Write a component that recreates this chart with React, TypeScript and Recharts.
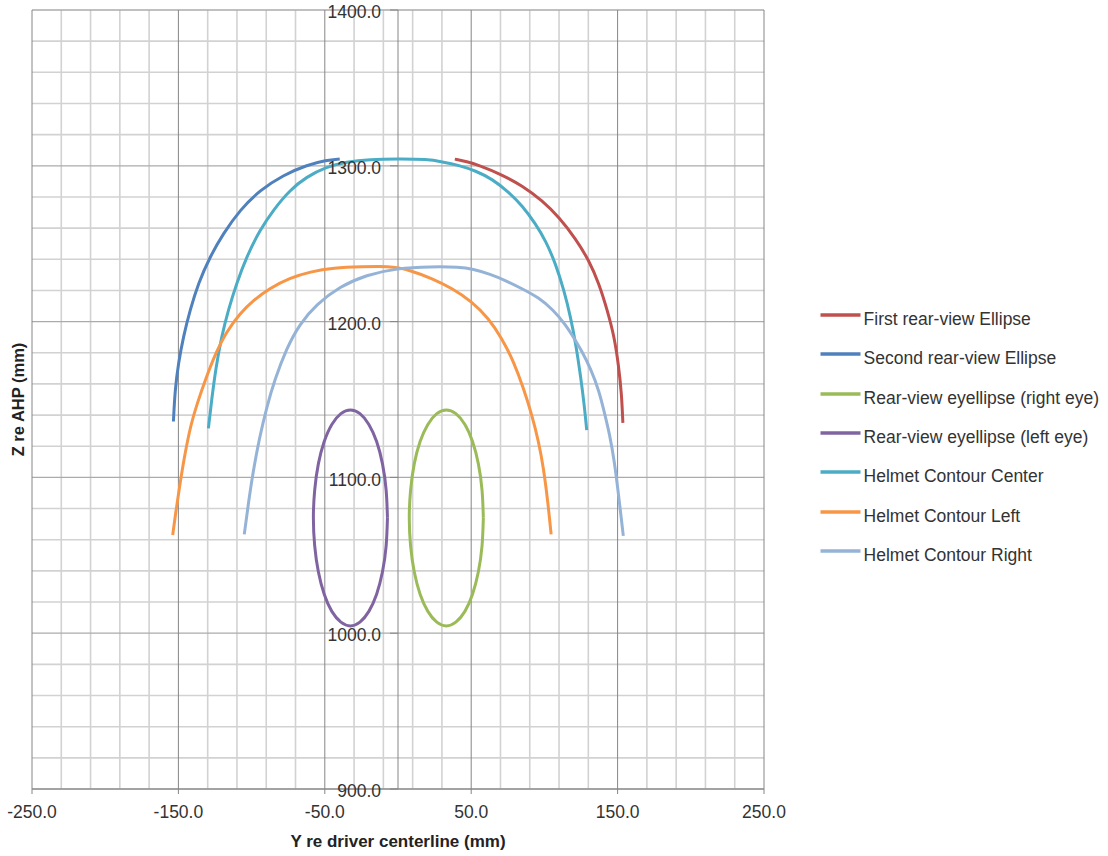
import React from "react";
import { LineChart, Line, XAxis, YAxis, ReferenceLine, ReferenceDot } from "recharts";

type Pt = { y: number; z: number };
const toPts = (a: number[][]): Pt[] => a.map(([y, z]) => ({ y, z }));

// Axis ticks / grid values
const xMajorTicks = [-250, -150, -50, 50, 150, 250];
const xMinorGrid = [-230, -210, -190, -170, -130, -110, -90, -70, -30, -10, 10, 30, 70, 90, 110, 130, 170, 190, 210, 230];
const yMajorTicks = [900, 1000, 1100, 1200, 1300, 1400];
const yMinorGrid = [920, 940, 960, 980, 1020, 1040, 1060, 1080, 1120, 1140, 1160, 1180, 1220, 1240, 1260, 1280, 1320, 1340, 1360, 1380];

// Series data (Y re driver centerline, Z re AHP)
const firstRearViewEllipse = toPts([
  [38.8, 1304.3], [47, 1302.8], [55.2, 1300.3], [70.1, 1294.7], [84.9, 1287.2], [98.6, 1277.6],
  [110, 1267], [121.4, 1253.1], [130.5, 1239.2], [137.3, 1224.3], [143, 1207.2], [147.8, 1190],
  [150.7, 1171.5], [152.7, 1154], [153.6, 1135],
]);

const secondRearViewEllipse = toPts([
  [-39.8, 1304.3], [-48.9, 1303.6], [-62.5, 1300.4], [-78.4, 1294], [-94.3, 1284.4], [-108, 1271.6],
  [-119.3, 1256.6], [-128.4, 1241.7], [-136.4, 1224.6], [-142, 1207.5], [-146.6, 1190.4],
  [-150, 1173.3], [-152.3, 1156.2], [-153.4, 1135.9],
]);

const eyellipseRight = toPts([
  [58.3, 1074], [57.4, 1091.9], [54.9, 1108.7], [50.9, 1123.0], [45.7, 1134.0], [39.5, 1140.9],
  [33.0, 1143.3], [26.5, 1140.9], [20.4, 1134.0], [15.1, 1123.0], [11.1, 1108.7], [8.6, 1091.9],
  [7.7, 1074], [8.6, 1056.1], [11.1, 1039.4], [15.1, 1025.0], [20.4, 1014.0], [26.5, 1007.1],
  [33.0, 1004.7], [39.5, 1007.1], [45.7, 1014.0], [50.9, 1025.0], [54.9, 1039.4], [57.4, 1056.1],
  [58.3, 1074],
]);

const eyellipseLeft = toPts([
  [-7.2, 1074], [-8.1, 1091.9], [-10.6, 1108.7], [-14.6, 1123.0], [-19.9, 1134.0], [-26.0, 1140.9],
  [-32.5, 1143.3], [-39.0, 1140.9], [-45.2, 1134.0], [-50.4, 1123.0], [-54.4, 1108.7], [-56.9, 1091.9],
  [-57.8, 1074], [-56.9, 1056.1], [-54.4, 1039.4], [-50.4, 1025.0], [-45.2, 1014.0], [-39.0, 1007.1],
  [-32.5, 1004.7], [-26.0, 1007.1], [-19.9, 1014.0], [-14.6, 1025.0], [-10.6, 1039.4], [-8.1, 1056.1],
  [-7.2, 1074],
]);

const helmetCenter = toPts([
  [-129.5, 1131.5], [-127.3, 1149.8], [-124.3, 1171.1], [-120.5, 1190.4], [-115.9, 1207.5],
  [-110.2, 1224.6], [-103.4, 1241.7], [-94.3, 1258.8], [-85.2, 1271.6], [-73.9, 1284.4],
  [-62.5, 1292.9], [-48.9, 1299.4], [-35.2, 1302.6], [-19.3, 1304.1], [0, 1304.4], [20, 1304.2],
  [30, 1302.6], [41.6, 1300.3], [53, 1296.8], [64.4, 1291.5], [75.8, 1283], [84.9, 1274.4],
  [94, 1262.7], [100.8, 1252], [107.7, 1237.1], [113.4, 1220], [117.9, 1202.9], [121.4, 1185.9],
  [124.8, 1164.5], [127.1, 1147.5], [128.9, 1130.4],
]);

const helmetLeft = toPts([
  [-153.9, 1063], [-152.2, 1075], [-149.4, 1093], [-145.8, 1114], [-141.5, 1134], [-137.3, 1147],
  [-131.5, 1163], [-124.5, 1180], [-117.5, 1193], [-108, 1205.3], [-99, 1213.5], [-87.5, 1221.5],
  [-74, 1228], [-60, 1232], [-44, 1234.5], [-25, 1235.3], [-5, 1235.5], [0.4, 1234.4], [7.2, 1233.2],
  [23.2, 1227.8], [36.8, 1221.4], [50.5, 1212.9], [61.8, 1202.2], [70.9, 1189.4], [78.9, 1174.5],
  [85.7, 1157.4], [91.4, 1140.3], [96, 1123.2], [99.4, 1106.1], [102.3, 1084.8], [104.6, 1063.4],
]);

const helmetRight = toPts([
  [-105, 1063.4], [-102.3, 1082.7], [-98.9, 1104.1], [-94.7, 1125.1], [-89.7, 1145.1], [-84.2, 1162.7],
  [-76.2, 1182.7], [-67.2, 1198.5], [-55.7, 1211], [-39.8, 1222.5], [-21.6, 1230], [-1.1, 1234.2],
  [23, 1235.3], [42, 1235], [51, 1233.8], [63, 1230.5], [74, 1226.2], [85, 1221], [96, 1215.5],
  [106, 1207.5], [114.5, 1198], [120.5, 1189], [125, 1182], [131.8, 1169.5], [137.5, 1155],
  [141, 1141.5], [144.6, 1127.5], [147.8, 1110.4], [150.6, 1089.1], [152.6, 1073], [153.9, 1062.5],
]);

const seriesNames = [
  "First rear-view Ellipse",
  "Second rear-view Ellipse",
  "Rear-view eyellipse (right eye)",
  "Rear-view eyellipse (left eye)",
  "Helmet Contour Center",
  "Helmet Contour Left",
  "Helmet Contour Right",
];
const seriesColors = ["#C0504D", "#4F81BD", "#9BBB59", "#8064A2", "#4BACC6", "#F79646", "#95B3D7"];
const seriesCurves = ["basis", "basis", "natural", "natural", "basis", "basis", "basis"];
const seriesData = [
  firstRearViewEllipse,
  secondRearViewEllipse,
  eyellipseRight,
  eyellipseLeft,
  helmetCenter,
  helmetLeft,
  helmetRight,
];

const FONT = "'Liberation Sans', Arial, sans-serif";

const YTick = (props: any) => {
  const vb = props.viewBox || props;
  const cx = (vb.x ?? 0) + (vb.width ?? 0) / 2;
  const cy = (vb.y ?? 0) + (vb.height ?? 0) / 2;
  return (
    <g>
      <line x1={cx - 8} y1={cy} x2={cx} y2={cy} stroke="#868686" strokeWidth={1} />
      <text x={cx - 17} y={cy + 2} dy="0.35em" textAnchor="end" fontFamily={FONT} fontSize={17.5} fill="#333">
        {Number(props.tickValue).toFixed(1)}
      </text>
    </g>
  );
};

export default function App() {
  return (
    <div style={{ position: "absolute", left: 0, top: 0, width: 1108, height: 856, fontFamily: FONT }}>
      <LineChart width={1108} height={856} margin={{ top: 10, right: 344, bottom: 7, left: 8 }}>
        {xMinorGrid.map((v) => (
          <ReferenceLine key={"xm" + v} x={v} stroke="#D2D2D2" strokeWidth={1.6} zIndex={-100} />
        ))}
        {yMinorGrid.map((v) => (
          <ReferenceLine key={"ym" + v} y={v} stroke="#D2D2D2" strokeWidth={1.6} zIndex={-100} />
        ))}
        {yMajorTicks.map((v) => (
          <ReferenceLine key={"yM" + v} y={v} stroke="#ABABAB" strokeWidth={1.3} zIndex={-100} />
        ))}
        {xMajorTicks.map((v) => (
          <ReferenceLine key={"xM" + v} x={v} stroke="#868686" strokeWidth={1} zIndex={-100} />
        ))}
        <ReferenceLine x={0} stroke="#868686" strokeWidth={1} zIndex={-100} />
        <XAxis
          type="number"
          dataKey="y"
          domain={[-250, 250]}
          ticks={xMajorTicks}
          allowDataOverflow
          tickFormatter={(v: number) => v.toFixed(1)}
          height={60}
          tickSize={5}
          tickMargin={12}
          stroke="#868686"
          tick={{ fill: "#333", fontSize: 17.5, fontFamily: FONT }}
          label={{
            value: "Y re driver centerline (mm)",
            position: "insideBottom",
            offset: 2,
            fill: "#222",
            fontSize: 17,
            fontWeight: "bold",
            fontFamily: FONT,
          }}
        />
        <YAxis
          type="number"
          domain={[900, 1400]}
          ticks={yMajorTicks}
          allowDataOverflow
          width={24}
          tick={false}
          tickLine={false}
          axisLine={false}
          label={{
            value: "Z re AHP (mm)",
            angle: -90,
            position: "center",
            dx: -2,
            fill: "#222",
            fontSize: 16.5,
            fontWeight: "bold",
            fontFamily: FONT,
          }}
        />
        {yMajorTicks.map((v) => (
          <ReferenceDot
            key={"t" + v}
            x={0}
            y={v}
            r={0}
            fill="none"
            stroke="none"
            label={(p: any) => <YTick {...p} tickValue={v} />}
          />
        ))}
        {seriesData.map((d, i) => (
          <Line
            key={seriesNames[i]}
            name={seriesNames[i]}
            data={d}
            dataKey="z"
            type={seriesCurves[i] as any}
            stroke={seriesColors[i]}
            strokeWidth={3}
            dot={false}
            activeDot={false}
            isAnimationActive={false}
          />
        ))}
      </LineChart>
      <div style={{ position: "absolute", left: 820, top: 295.4 }}>
        {seriesNames.map((n, i) => (
          <div key={n} style={{ height: 39.3, display: "flex", alignItems: "center" }}>
            <svg width={41} height={6} style={{ display: "block" }}>
              <line x1={0.5} y1={3} x2={40.5} y2={3} stroke={seriesColors[i]} strokeWidth={3.5} />
            </svg>
            <span style={{ marginLeft: 2.6, fontSize: 17.5, color: "#333", whiteSpace: "nowrap", lineHeight: "20px", position: "relative", top: 4 }}>
              {n}
            </span>
          </div>
        ))}
      </div>
    </div>
  );
}
